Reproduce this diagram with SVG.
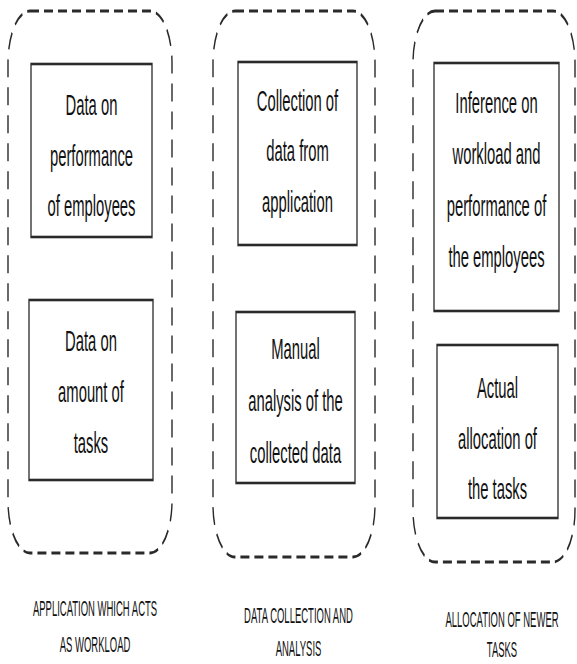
<svg xmlns="http://www.w3.org/2000/svg" width="577" height="664" viewBox="0 0 577 664">
  <style>
    .container { fill: none; stroke: #2a2a2a; stroke-width: 1.4; stroke-dasharray: 9 5; }
    .box { fill: #ffffff; stroke: #2a2a2a; stroke-width: 1.3; }
    .t { font-family: "Liberation Sans", Arial, sans-serif; font-size: 14.8px; fill: #111111; text-anchor: middle; }
    .cap { font-family: "Liberation Sans", Arial, sans-serif; font-size: 9.5px; fill: #111111; text-anchor: middle; }
  </style>
  <rect x="0" y="0" width="577" height="664" fill="#ffffff"/>
  <!-- the picture is stretched 2x vertically; coordinates inside are in half-height units -->
  <g transform="scale(1,2)">
    <g id="group-application">
      <rect class="container" x="8" y="5.5" width="164" height="271" rx="22" ry="26"/>
    </g>
    <g id="group-collection">
      <rect class="container" x="213" y="5.5" width="162" height="273" rx="22" ry="26"/>
    </g>
    <g id="group-allocation">
      <rect class="container" x="413" y="5.5" width="162" height="275.5" rx="22" ry="26"/>
    </g>

    <g id="node-performance-data">
      <rect class="box" x="31" y="32" width="121" height="86.5"/>
      <text class="t" x="91.5" y="57.5">Data on</text>
      <text class="t" x="91.5" y="83">performance</text>
      <text class="t" x="91.5" y="108">of employees</text>
    </g>
    <g id="node-task-data">
      <rect class="box" x="29" y="150" width="124" height="90"/>
      <text class="t" x="91" y="175.5">Data on</text>
      <text class="t" x="91" y="201">amount of</text>
      <text class="t" x="91" y="226.5">tasks</text>
    </g>
    <g id="node-collection">
      <rect class="box" x="238" y="31" width="119" height="91.5"/>
      <text class="t" x="297.5" y="55.5">Collection of</text>
      <text class="t" x="297.5" y="80.75">data from</text>
      <text class="t" x="297.5" y="106">application</text>
    </g>
    <g id="node-manual-analysis">
      <rect class="box" x="236" y="156" width="119" height="85.5"/>
      <text class="t" x="295.5" y="179.5">Manual</text>
      <text class="t" x="295.5" y="205.5">analysis of the</text>
      <text class="t" x="295.5" y="231.5">collected data</text>
    </g>
    <g id="node-inference">
      <rect class="box" x="434" y="31.5" width="125" height="124"/>
      <text class="t" x="496.5" y="56.5">Inference on</text>
      <text class="t" x="496.5" y="82">workload and</text>
      <text class="t" x="496.5" y="108">performance of</text>
      <text class="t" x="496.5" y="133.5">the employees</text>
    </g>
    <g id="node-allocation">
      <rect class="box" x="437" y="172.5" width="121" height="86.5"/>
      <text class="t" x="497.5" y="199">Actual</text>
      <text class="t" x="497.5" y="224.5">allocation of</text>
      <text class="t" x="497.5" y="249.5">the tasks</text>
    </g>
  </g>

  <g id="captions">
    <text class="cap" transform="matrix(1,0,0,2.25,95,616)">APPLICATION WHICH ACTS</text>
    <text class="cap" transform="matrix(1,0,0,2.25,95,652)">AS WORKLOAD</text>
    <text class="cap" transform="matrix(1,0,0,2.25,298.5,623)">DATA COLLECTION AND</text>
    <text class="cap" transform="matrix(1,0,0,2.25,298.5,656)">ANALYSIS</text>
    <text class="cap" transform="matrix(1,0,0,2.25,502,627)">ALLOCATION OF NEWER</text>
    <text class="cap" transform="matrix(1,0,0,2.25,502,657)">TASKS</text>
  </g>
</svg>
